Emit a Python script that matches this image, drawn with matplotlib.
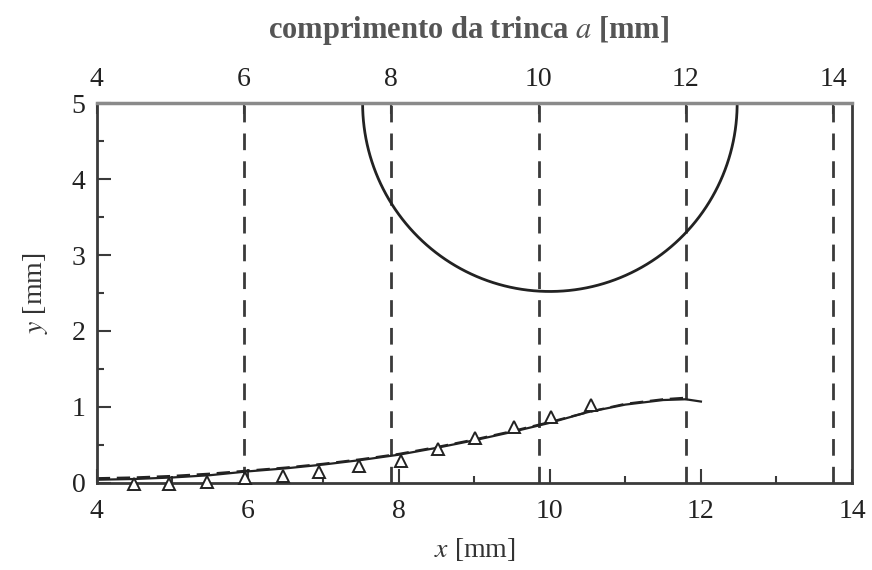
import numpy as np
import matplotlib.pyplot as plt
from matplotlib.ticker import MultipleLocator, FixedLocator

# crack length positions (top axis, a in mm)
crack_lengths = [6, 8, 10, 12, 14]
top_ticks = [4, 6, 8, 10, 12, 14]
a_scale = 0.975  # top axis is slightly compressed against the bottom one

# crack front profile (solid and dashed)
front_x = [4.0, 4.5, 5.0, 5.5, 6.0, 6.5, 7.0, 7.5, 8.0, 8.5, 9.0, 9.5, 10.0, 10.5, 11.0, 11.5, 11.8, 12.0]
front_y = [0.04, 0.05, 0.07, 0.10, 0.15, 0.19, 0.24, 0.30, 0.37, 0.46, 0.56, 0.67, 0.79, 0.93, 1.03, 1.09, 1.10, 1.07]
front2_x = [4.0, 4.5, 5.0, 5.5, 6.0, 6.5, 7.0, 7.5, 8.0, 8.5, 9.0, 9.5, 10.0, 10.5, 11.0, 11.5, 11.8]
front2_y = [0.06, 0.07, 0.09, 0.12, 0.16, 0.20, 0.25, 0.31, 0.38, 0.47, 0.57, 0.68, 0.80, 0.93, 1.04, 1.10, 1.12]

# measured points (triangles)
meas_x = [4.49, 4.96, 5.46, 5.96, 6.47, 6.94, 7.47, 8.03, 8.52, 9.01, 9.52, 10.01, 10.54]
meas_y = [-0.02, -0.02, 0.01, 0.06, 0.09, 0.14, 0.22, 0.29, 0.45, 0.59, 0.74, 0.86, 1.02]

# semicircular hole
hole_cx, hole_cy, hole_r = 10.0, 5.0, 2.48


def a_to_x(a):
    return 4 + (np.asarray(a) - 4) * a_scale


def x_to_a(x):
    return 4 + (np.asarray(x) - 4) / a_scale


plt.rcParams['font.family'] = ['Liberation Serif', 'DejaVu Serif']
plt.rcParams['mathtext.fontset'] = 'stix'

fig = plt.figure(figsize=(8.72, 5.70), dpi=100)
ax = fig.add_axes([0.111, 0.153, 0.866, 0.666])

edge = '#3a3a3a'

# dashed vertical lines at crack lengths
for a in crack_lengths:
    ax.axvline(a_to_x(a), color=edge, lw=2, ls=(0, (6, 4)), zorder=1)

# semicircle
t = np.linspace(np.pi, 2 * np.pi, 200)
ax.plot(hole_cx + hole_r * np.cos(t), hole_cy + hole_r * np.sin(t), color='#222222', lw=2)

# crack front lines and measured points
ax.plot(front_x, front_y, color='#222222', lw=1.6)
ax.plot(front2_x, front2_y, color='#222222', lw=1.6, ls=(0, (6, 3)))
ax.plot(meas_x, meas_y, ls='none', marker='^', ms=9, mfc='white', mec='#222222', mew=1.4,
        clip_on=False, zorder=4)

ax.set_xlim(4, 14)
ax.set_ylim(0, 5)

ax.xaxis.set_major_locator(MultipleLocator(2))
ax.xaxis.set_minor_locator(MultipleLocator(1))
ax.yaxis.set_major_locator(MultipleLocator(1))
ax.yaxis.set_minor_locator(MultipleLocator(0.5))
ax.tick_params(which='both', direction='in', colors=edge, labelcolor='#222222', width=1.5)
ax.tick_params(which='major', length=10, labelsize=20, pad=8)
ax.tick_params(axis='x', which='major', pad=12)
ax.tick_params(which='minor', length=5)

for side in ['left', 'bottom', 'right']:
    ax.spines[side].set_color(edge)
    ax.spines[side].set_linewidth(2)
ax.spines['top'].set_color('#8a8a8a')
ax.spines['top'].set_linewidth(2.5)

# top axis with crack length
top = ax.secondary_xaxis('top', functions=(x_to_a, a_to_x))
top.xaxis.set_major_locator(FixedLocator(top_ticks))
top.tick_params(direction='in', length=8, width=1.5, colors=edge, labelcolor='#222222', labelsize=20, pad=8)
top.spines['top'].set_visible(False)

ax.set_xlabel('$x$ [mm]', fontsize=20, color='#333333', labelpad=8)
ax.set_ylabel('$y$ [mm]', fontsize=20, color='#333333', labelpad=16)

fig.text(0.537, 0.947, 'comprimento da trinca $\\mathbf{\\mathit{a}}$ [mm]',
         ha='center', va='center', fontsize=22, fontweight='bold', color='#555555')

fig.savefig('out.png', dpi=100)
